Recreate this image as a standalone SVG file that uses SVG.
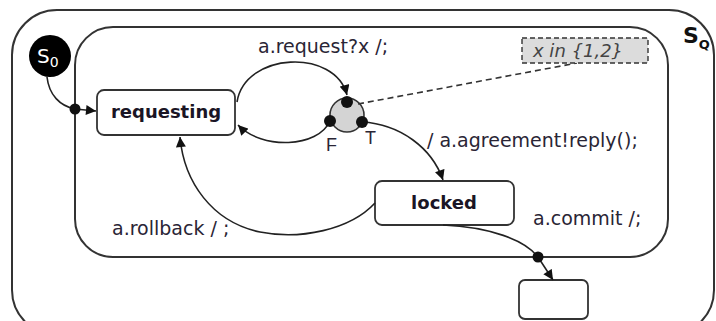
<svg xmlns="http://www.w3.org/2000/svg" width="716" height="321" viewBox="0 0 716 321">
<defs>
<marker id="arr" viewBox="0 0 10 10" refX="10" refY="5" markerWidth="11" markerHeight="10" markerUnits="userSpaceOnUse" orient="auto">
<path d="M0,0 L10,5 L0,10 z" fill="#111"/>
</marker>
</defs>
<style>
.box{fill:none;stroke:#333;stroke-width:2}
.state{fill:#fff;stroke:#333;stroke-width:1.8}
.edge{fill:none;stroke:#222;stroke-width:1.6}
.dot{fill:#111}
.lbl{font-family:"DejaVu Sans",Verdana,sans-serif;font-size:19px;fill:#2a2535}
.name{font-family:"DejaVu Sans",Verdana,sans-serif;font-size:18px;font-weight:bold;fill:#1a1525}
</style>
<rect width="716" height="321" fill="#fff"/>
<g id="SQ">
<rect class="box" x="12" y="10" width="702" height="325" rx="45"/>
<text x="683" y="43" font-family="DejaVu Sans,sans-serif" font-weight="bold" font-size="22" fill="#111">S<tspan font-size="13" dy="6">Q</tspan></text>
</g>
<g id="inner">
<rect class="box" x="75" y="27" width="593" height="230" rx="38"/>
</g>
<g id="S0">
<circle cx="50" cy="56" r="21" fill="#000"/>
<text x="37" y="63" font-family="DejaVu Sans,sans-serif" font-size="20" fill="#fff">S<tspan font-size="14" dy="4">0</tspan></text>
</g>
<g id="requesting">
<rect class="state" x="97" y="90" width="138" height="45" rx="7"/>
<text class="name" x="166" y="118" text-anchor="middle">requesting</text>
</g>
<g id="choice">
<circle cx="347" cy="115" r="17" fill="#d4d4d4" stroke="#333" stroke-width="1.6"/>
<text x="326" y="151" font-family="Liberation Sans,sans-serif" font-size="18" fill="#2a2535">F</text>
<text x="365" y="144" font-family="Liberation Sans,sans-serif" font-size="18" fill="#2a2535">T</text>
</g>
<g id="locked">
<rect class="state" x="375" y="181" width="139" height="44" rx="7"/>
<text class="name" x="444" y="209" text-anchor="middle">locked</text>
</g>
<g id="final">
<rect class="state" x="519" y="280" width="69" height="39" rx="6"/>
</g>
<g id="note">
<line x1="358" y1="104" x2="577" y2="63" stroke="#333" stroke-width="1.6" stroke-dasharray="6,4"/>
<rect x="522" y="38" width="126" height="25" fill="#dcdcdc" stroke="#333" stroke-width="1.4" stroke-dasharray="5,3"/>
<text x="533" y="57" font-family="DejaVu Sans,sans-serif" font-style="italic" font-size="18" fill="#444">x in {1,2}</text>
</g>
<g id="connectors">
<path class="edge" d="M47,77 C49,95 60,106 75,109 L96,111" marker-end="url(#arr)"/>
<path class="edge" d="M237,102 C245,52 335,48 347,95" marker-end="url(#arr)"/>
<path class="edge" d="M330,121 C318,148 262,150 238,125" marker-end="url(#arr)"/>
<path class="edge" d="M362,122 C400,124 432,148 443,180" marker-end="url(#arr)"/>
<path class="edge" d="M375,203 C350,230 300,240 260,232 C212,222 184,182 180,137" marker-end="url(#arr)"/>
<path class="edge" d="M443,225 C490,227 525,240 538,257 L553,280" marker-end="url(#arr)"/>
<circle class="dot" cx="75" cy="109" r="5.5"/>
<circle class="dot" cx="347" cy="102" r="6"/>
<circle class="dot" cx="330" cy="121" r="6"/>
<circle class="dot" cx="362" cy="122" r="6"/>
<circle class="dot" cx="538" cy="257" r="5.5"/>
<text class="lbl" x="258" y="53">a.request?x /;</text>
<text class="lbl" x="427" y="147">/ a.agreement!reply();</text>
<text class="lbl" x="112" y="235">a.rollback / ;</text>
<text class="lbl" x="533" y="225">a.commit /;</text>
</g>
</svg>
